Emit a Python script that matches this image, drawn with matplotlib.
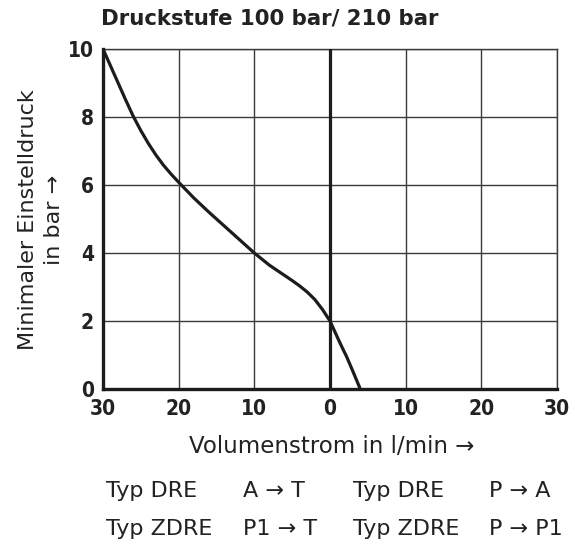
import matplotlib
matplotlib.use("Agg")
import matplotlib.pyplot as plt
from matplotlib.font_manager import FontProperties
from matplotlib.ticker import FixedLocator

# curve (x: flow in l/min, left side negative)
flow = [-30, -29, -28, -27, -26, -25, -24, -23, -22, -21, -20,
        -18, -16, -14, -12, -10, -8, -6, -5, -4, -3, -2, -1, 0,
        0.55, 1.1, 1.65, 2.2, 3.1, 4]
pressure = [10, 9.5, 9.0, 8.5, 8.02, 7.6, 7.22, 6.88, 6.58, 6.32, 6.08,
            5.62, 5.2, 4.8, 4.4, 4.0, 3.64, 3.34, 3.19, 3.03, 2.85, 2.63,
            2.34, 2.0, 1.73, 1.46, 1.2, 0.95, 0.48, 0]

xticks = [-30, -20, -10, 0, 10, 20, 30]
xlabels = ["30", "20", "10", "0", "10", "20", "30"]
yticks = [0, 2, 4, 6, 8, 10]

title = "Druckstufe 100 bar/ 210 bar"
ylabel = "Minimaler Einstelldruck\nin bar →"
xlabel = "Volumenstrom in l/min →"
legend_rows = [["Typ DRE", "A → T", "Typ DRE", "P → A"],
               ["Typ ZDRE", "P1 → T", "Typ ZDRE", "P → P1"]]

W, H = 577, 547
fig = plt.figure(figsize=(W / 100, H / 100), dpi=100)
ax = fig.add_axes([103 / W, 1 - 389 / H, 454 / W, 340 / H])

ink = "#1c1c1c"
gridc = "#3a3a3a"
txt = "#222222"

ax.plot(flow, pressure, color=ink, lw=2.3, solid_capstyle="butt",
        solid_joinstyle="round", zorder=4)
ax.set_xlim(-30, 30)
ax.set_ylim(0, 10)

ax.xaxis.set_major_locator(FixedLocator(xticks))
ax.yaxis.set_major_locator(FixedLocator(yticks))
ax.set_xticklabels(xlabels)
ax.grid(True, color=gridc, lw=1.0)
ax.axvline(0, color=ink, lw=2.3, zorder=3)
ax.tick_params(axis="x", length=0, pad=7.5, labelcolor=txt)
ax.tick_params(axis="y", length=0, pad=6.5, labelcolor=txt)
tickfont = FontProperties(family="DejaVu Sans", stretch="condensed",
                          weight="bold", size=15)
for lab in ax.get_xticklabels() + ax.get_yticklabels():
    lab.set_fontproperties(tickfont)

for side in ["top", "right"]:
    ax.spines[side].set_linewidth(1.0)
    ax.spines[side].set_color(gridc)
for side in ["left", "bottom"]:
    ax.spines[side].set_linewidth(2.4)
    ax.spines[side].set_color(ink)

fam = ["DejaVu Sans"]
fig.text(101 / W, 1 - 25 / H, title, fontsize=15.3, fontweight="bold",
         family=fam, color=txt, ha="left", va="baseline")
fig.text(41 / W, 1 - 220 / H, ylabel, fontsize=16, family=fam, color=txt,
         rotation=90, ha="center", va="center", multialignment="center",
         linespacing=1.35)
fig.text(332 / W, 1 - 453 / H, xlabel, fontsize=16.5, family=fam, color=txt,
         ha="center", va="baseline")

col_x = [106, 243, 353, 489]
row_y = [497, 535]
for r, row in enumerate(legend_rows):
    for c, s in enumerate(row):
        fig.text(col_x[c] / W, 1 - row_y[r] / H, s, fontsize=16, family=fam,
                 color=txt, ha="left", va="baseline")

fig.savefig("out.png", dpi=100)
